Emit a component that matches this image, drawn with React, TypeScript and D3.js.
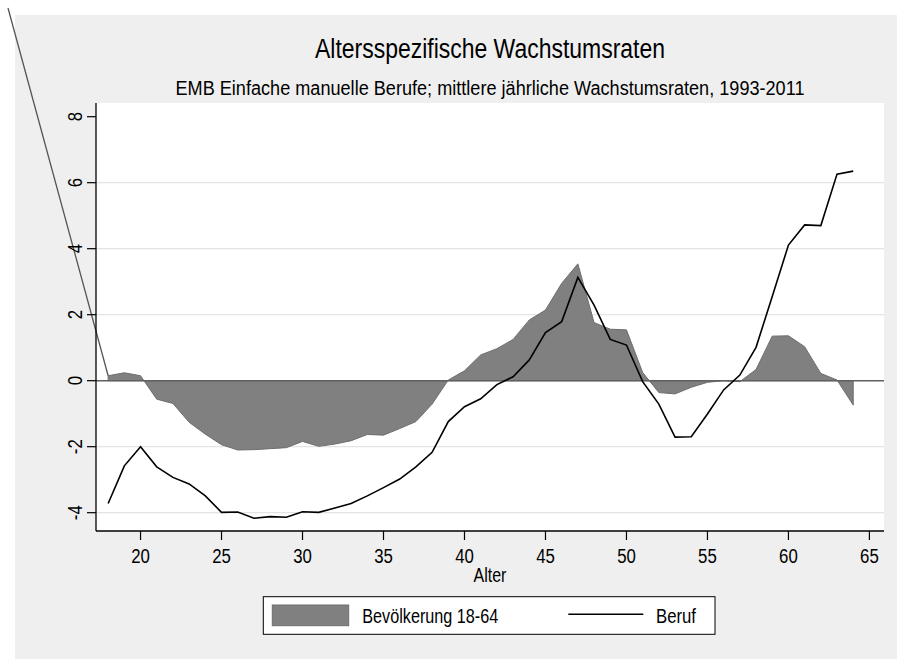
import React from "react";
import * as d3 from "d3";

const ages = [18,19,20,21,22,23,24,25,26,27,28,29,30,31,32,33,34,35,36,37,38,39,40,41,42,43,44,45,46,47,48,49,50,51,52,53,54,55,56,57,58,59,60,61,62,63,64];
const bevoelkerung = [0.15,0.24,0.15,-0.56,-0.69,-1.26,-1.62,-1.94,-2.10,-2.09,-2.06,-2.03,-1.84,-1.99,-1.92,-1.82,-1.63,-1.65,-1.45,-1.24,-0.71,0.02,0.30,0.78,0.97,1.25,1.84,2.14,2.95,3.54,1.76,1.56,1.54,0.25,-0.36,-0.40,-0.20,-0.05,0.0,-0.03,0.34,1.35,1.36,1.03,0.22,0.02,-0.74];
const beruf = [-3.72,-2.58,-2.0,-2.61,-2.93,-3.13,-3.49,-3.99,-3.98,-4.17,-4.12,-4.14,-3.97,-3.99,-3.86,-3.72,-3.49,-3.24,-2.98,-2.61,-2.17,-1.24,-0.79,-0.55,-0.12,0.12,0.63,1.46,1.79,3.13,2.29,1.25,1.08,-0.03,-0.71,-1.71,-1.70,-1.01,-0.28,0.17,1.01,2.55,4.11,4.72,4.70,6.26,6.35];
const xTicks = [20,25,30,35,40,45,50,55,60,65];
const yTicks = [-4,-2,0,2,4,6,8];
const gridValues = [-4,-2,2,4,6];

const title = "Altersspezifische Wachstumsraten";
const subtitle = "EMB Einfache manuelle Berufe; mittlere jährliche Wachstumsraten, 1993-2011";
const xTitle = "Alter";
const legendLabels = ["Bevölkerung 18-64", "Beruf"];

const FONT = "'Liberation Sans', Arial, Helvetica, sans-serif";
const SX = 0.8;

export default function App() {
  const W = 897, H = 659;
  const L = 96, R = 884, T = 103, B = 531;
  const x = d3.scaleLinear().domain([17.25, 65.9]).range([L, R]);
  const y = d3.scaleLinear().domain([-4.555, 8.415]).range([B, T]);

  const pts = ages.map((a, i) => ({ a, p: bevoelkerung[i], b: beruf[i] }));
  const areaGen = d3.area<any>().x(d => x(d.a)).y0(y(0)).y1(d => y(d.p));
  const lineGen = d3.line<any>().x(d => x(d.a)).y(d => y(d.b));

  const first = pts[0];

  return (
    <svg width={W} height={H} style={{ position: "absolute", left: 0, top: 0, display: "block" }}>
      <rect x={0} y={0} width={W} height={H} fill="#ffffff" />
      <rect x={15} y={15} width={W - 15} height={H - 15} fill="#efefef" />
      <rect x={L} y={T} width={R - L} height={B - T} fill="#ffffff" />

      {gridValues.map(v => (
        <line key={v} x1={L} x2={R} y1={y(v)} y2={y(v)} stroke="#e4e4e4" strokeWidth={1.3} />
      ))}

      <path d={areaGen(pts) || ""} fill="#808080" stroke="#6e6e6e" strokeWidth={1} />
      <line x1={L} x2={R} y1={y(0)} y2={y(0)} stroke="#606060" strokeWidth={1.5} />
      <line x1={8} y1={8} x2={x(first.a)} y2={y(first.p)} stroke="#555555" strokeWidth={1.3} />
      <path d={lineGen(pts) || ""} fill="none" stroke="#000000" strokeWidth={1.6} strokeLinejoin="miter" />

      {/* axes */}
      <line x1={L} x2={L} y1={T} y2={B} stroke="#000" strokeWidth={1.3} />
      <line x1={L} x2={R} y1={B} y2={B} stroke="#000" strokeWidth={1.3} />
      {yTicks.map(v => (
        <g key={v}>
          <line x1={L - 9} x2={L} y1={y(v)} y2={y(v)} stroke="#000" strokeWidth={1.2} />
          <text transform={`translate(81.5,${y(v)}) rotate(-90) scale(${SX},1)`} textAnchor="middle"
            fontFamily={FONT} fontSize={21} fill="#000">{v}</text>
        </g>
      ))}
      {xTicks.map(v => (
        <g key={v}>
          <line x1={x(v)} x2={x(v)} y1={B} y2={B + 9} stroke="#000" strokeWidth={1.2} />
          <text transform={`translate(${x(v)},563.3) scale(${SX},1)`} textAnchor="middle"
            fontFamily={FONT} fontSize={21} fill="#000">{v}</text>
        </g>
      ))}
      <text transform={`translate(${(L + R) / 2},582) scale(${SX},1)`} textAnchor="middle"
        fontFamily={FONT} fontSize={20} fill="#000">{xTitle}</text>

      {/* titles */}
      <text x={(L + R) / 2} y={58} textAnchor="middle" fontFamily={FONT} fontSize={27}
        textLength={350} lengthAdjust="spacingAndGlyphs" fill="#000">{title}</text>
      <text x={(L + R) / 2} y={95} textAnchor="middle" fontFamily={FONT} fontSize={20}
        textLength={629} lengthAdjust="spacingAndGlyphs" fill="#000">{subtitle}</text>

      {/* legend */}
      <rect x={263.3} y={596.7} width={451.7} height={37.6} fill="#ffffff" stroke="#000" strokeWidth={1} />
      <rect x={272.3} y={605} width={76.4} height={20.7} fill="#808080" stroke="#6e6e6e" strokeWidth={1} />
      <text x={362.3} y={623.3} fontFamily={FONT} fontSize={21} textLength={136}
        lengthAdjust="spacingAndGlyphs" fill="#000">{legendLabels[0]}</text>
      <line x1={568.3} x2={643.3} y1={614.3} y2={614.3} stroke="#000" strokeWidth={1.5} />
      <text x={656} y={623.3} fontFamily={FONT} fontSize={21} textLength={40}
        lengthAdjust="spacingAndGlyphs" fill="#000">{legendLabels[1]}</text>
    </svg>
  );
}
